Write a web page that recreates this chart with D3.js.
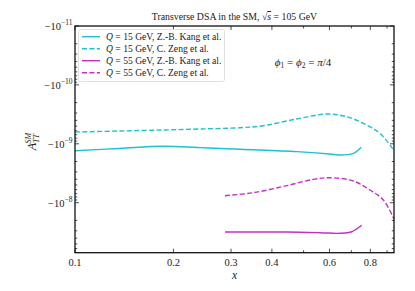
<!DOCTYPE html>
<html>
<head>
<meta charset="utf-8">
<script src="https://cdn.jsdelivr.net/npm/d3@7"></script>
<style>
  body { margin: 0; background: #fff; }
  text { font-family: "Liberation Serif", "DejaVu Serif", serif; fill: #222; }
</style>
</head>
<body>
<div id="chart"></div>
<script>
// x values (log axis) and A_TT values (negative, log magnitude axis)
const kang15X = [0.1, 0.137, 0.186, 0.241, 0.320, 0.476, 0.600, 0.646, 0.710, 0.750];
const kang15Y = [-1.31e-9, -1.20e-9, -1.10e-9, -1.16e-9, -1.24e-9, -1.36e-9, -1.49e-9, -1.55e-9, -1.45e-9, -1.14e-9];

const zeng15X = [0.1, 0.137, 0.186, 0.241, 0.320, 0.377, 0.476, 0.589, 0.677, 0.761, 0.856, 0.945];
const zeng15Y = [-6.31e-10, -6.06e-10, -5.83e-10, -5.61e-10, -5.33e-10, -4.93e-10, -3.79e-10, -3.12e-10, -3.47e-10, -4.49e-10, -6.63e-10, -1.30e-9];

const kang55X = [0.2875, 0.351, 0.444, 0.561, 0.646, 0.702, 0.753];
const kang55Y = [-3.14e-8, -3.14e-8, -3.14e-8, -3.23e-8, -3.31e-8, -3.11e-8, -2.42e-8];

const zeng55X = [0.2875, 0.351, 0.444, 0.536, 0.602, 0.710, 0.798, 0.877, 0.945];
const zeng55Y = [-7.60e-9, -6.76e-9, -5.14e-9, -4.01e-9, -3.77e-9, -4.28e-9, -6.09e-9, -9.0e-9, -1.9e-8];

const seriesNames = ["Q = 15 GeV, Z.-B. Kang et al.", "Q = 15 GeV, C. Zeng et al.",
                     "Q = 55 GeV, Z.-B. Kang et al.", "Q = 55 GeV, C. Zeng et al."];
const seriesColors = ["#1cc4c9", "#1cc4c9", "#c62fc6", "#c62fc6"];
const seriesDashed = [false, true, false, true];

const xLabeled = [0.1, 0.2, 0.3, 0.4, 0.6, 0.8];
const xUnlabeled = [0.5, 0.7, 0.9];
const yMajor = [1e-11, 1e-10, 1e-9, 1e-8];
const yExponents = ["−11", "−10", "−9", "−8"];

const W = 415, H = 291;
const L = 75, R = 394, T = 26, B = 252.7;

const svg = d3.select("#chart").append("svg")
    .attr("width", W).attr("height", H);

const x = d3.scaleLog().domain([0.1, 0.945]).range([L, R]);
// magnitude on log scale, larger magnitude lower
const yMag = d3.scaleLog().domain([1e-11, 7.06e-8]).range([T, B]);
const y = v => yMag(-v);

// minor y ticks
const yMinor = [];
for (let e = -11; e <= -8; e++) {
    for (let k = 2; k <= 9; k++) {
        const v = k * Math.pow(10, e);
        if (v < 7.06e-8) yMinor.push(v);
    }
}

const ticks = svg.append("g").attr("stroke", "#222").attr("stroke-width", 0.8);

// x ticks bottom and top, pointing inward
xLabeled.forEach(v => {
    ticks.append("line").attr("x1", x(v)).attr("x2", x(v)).attr("y1", B).attr("y2", B - 4);
    ticks.append("line").attr("x1", x(v)).attr("x2", x(v)).attr("y1", T).attr("y2", T + 4);
});
xUnlabeled.forEach(v => {
    ticks.append("line").attr("x1", x(v)).attr("x2", x(v)).attr("y1", B).attr("y2", B - 2.5);
    ticks.append("line").attr("x1", x(v)).attr("x2", x(v)).attr("y1", T).attr("y2", T + 2.5);
});
// y ticks left and right
yMajor.forEach(v => {
    ticks.append("line").attr("x1", L).attr("x2", L + 4).attr("y1", yMag(v)).attr("y2", yMag(v));
    ticks.append("line").attr("x1", R).attr("x2", R - 4).attr("y1", yMag(v)).attr("y2", yMag(v));
});
yMinor.forEach(v => {
    ticks.append("line").attr("x1", L).attr("x2", L + 2.2).attr("y1", yMag(v)).attr("y2", yMag(v));
    ticks.append("line").attr("x1", R).attr("x2", R - 2.2).attr("y1", yMag(v)).attr("y2", yMag(v));
});

// x tick labels
svg.append("g").selectAll("text").data(xLabeled).join("text")
    .attr("x", d => x(d)).attr("y", 265.5)
    .attr("text-anchor", "middle")
    .style("font-size", "10.5px")
    .text(d => d3.format(".1f")(d));

// y tick labels
const yl = svg.append("g").selectAll("text").data(yMajor).join("text")
    .attr("x", 72.5).attr("y", d => yMag(d) + 4)
    .attr("text-anchor", "end")
    .style("font-size", "10.5px");
yl.append("tspan").text("−10");
yl.append("tspan").attr("dy", -5).style("font-size", "7.5px").text((d, i) => yExponents[i]);

// curves
const lineGen = d3.line()
    .x(d => x(d[0]))
    .y(d => y(d[1]))
    .curve(d3.curveCatmullRom.alpha(0.5));

const allX = [kang15X, zeng15X, kang55X, zeng55X];
const allY = [kang15Y, zeng15Y, kang55Y, zeng55Y];

const plot = svg.append("g");
svg.append("clipPath").attr("id", "clip").append("rect")
    .attr("x", L).attr("y", T).attr("width", R - L).attr("height", B - T);
plot.attr("clip-path", "url(#clip)");

allX.forEach((xs, i) => {
    const pts = xs.map((v, j) => [v, allY[i][j]]);
    plot.append("path")
        .attr("d", lineGen(pts))
        .attr("fill", "none")
        .attr("stroke", seriesColors[i])
        .attr("stroke-width", 1.4)
        .attr("stroke-dasharray", seriesDashed[i] ? "5,2.4" : null);
});

// frame
svg.append("rect")
    .attr("x", L).attr("y", T).attr("width", R - L).attr("height", B - T)
    .attr("fill", "none").attr("stroke", "#111").attr("stroke-width", 1.3);

// legend
const leg = svg.append("g");
leg.append("rect")
    .attr("x", 78.5).attr("y", 29.5).attr("width", 146).attr("height", 52)
    .attr("rx", 2).attr("fill", "#fff").attr("fill-opacity", 0.8)
    .attr("stroke", "#d8d8d8").attr("stroke-width", 0.8);
seriesNames.forEach((name, i) => {
    const cy = 36.7 + i * 12;
    leg.append("line")
        .attr("x1", 82).attr("x2", 100).attr("y1", cy).attr("y2", cy)
        .attr("stroke", seriesColors[i]).attr("stroke-width", 1.4)
        .attr("stroke-dasharray", seriesDashed[i] ? "5,2.4" : null);
    const t = leg.append("text").attr("x", 106).attr("y", cy + 3.4).style("font-size", "9.6px");
    t.append("tspan").style("font-style", "italic").text("Q");
    t.append("tspan").text(name.slice(1));
});

// title
const title = svg.append("text")
    .attr("x", (L + R) / 2).attr("y", 20)
    .attr("text-anchor", "middle")
    .style("font-size", "9.8px");
title.append("tspan").text("Transverse DSA in the SM, √");
title.append("tspan").style("font-style", "italic").style("text-decoration", "overline").text("s");
title.append("tspan").text(" = 105 GeV");

// annotation
const ann = svg.append("text")
    .attr("x", 303).attr("y", 65.5)
    .attr("text-anchor", "middle")
    .style("font-size", "11px");
ann.append("tspan").style("font-style", "italic").text("ϕ");
ann.append("tspan").attr("dy", 2).style("font-size", "7.5px").text("1");
ann.append("tspan").attr("dy", -2).text(" = ");
ann.append("tspan").style("font-style", "italic").text("ϕ");
ann.append("tspan").attr("dy", 2).style("font-size", "7.5px").text("2");
ann.append("tspan").attr("dy", -2).text(" = ");
ann.append("tspan").style("font-style", "italic").text("π");
ann.append("tspan").text("/4");

// x label
svg.append("text")
    .attr("x", (L + R) / 2).attr("y", 279)
    .attr("text-anchor", "middle")
    .style("font-size", "11.5px").style("font-style", "italic")
    .text("x");

// y label
const ylab = svg.append("text")
    .attr("transform", `translate(36,${(T + B) / 2 + 11}) rotate(-90)`)
    .attr("text-anchor", "start")
    .style("font-size", "12px");
ylab.append("tspan").style("font-style", "italic").text("A");
ylab.append("tspan").attr("dy", 3).style("font-size", "8px").style("font-style", "italic").text("TT");
ylab.append("tspan").attr("dx", -9.5).attr("dy", -8.5).style("font-size", "8px").style("font-style", "italic").text("SM");
</script>
</body>
</html>
